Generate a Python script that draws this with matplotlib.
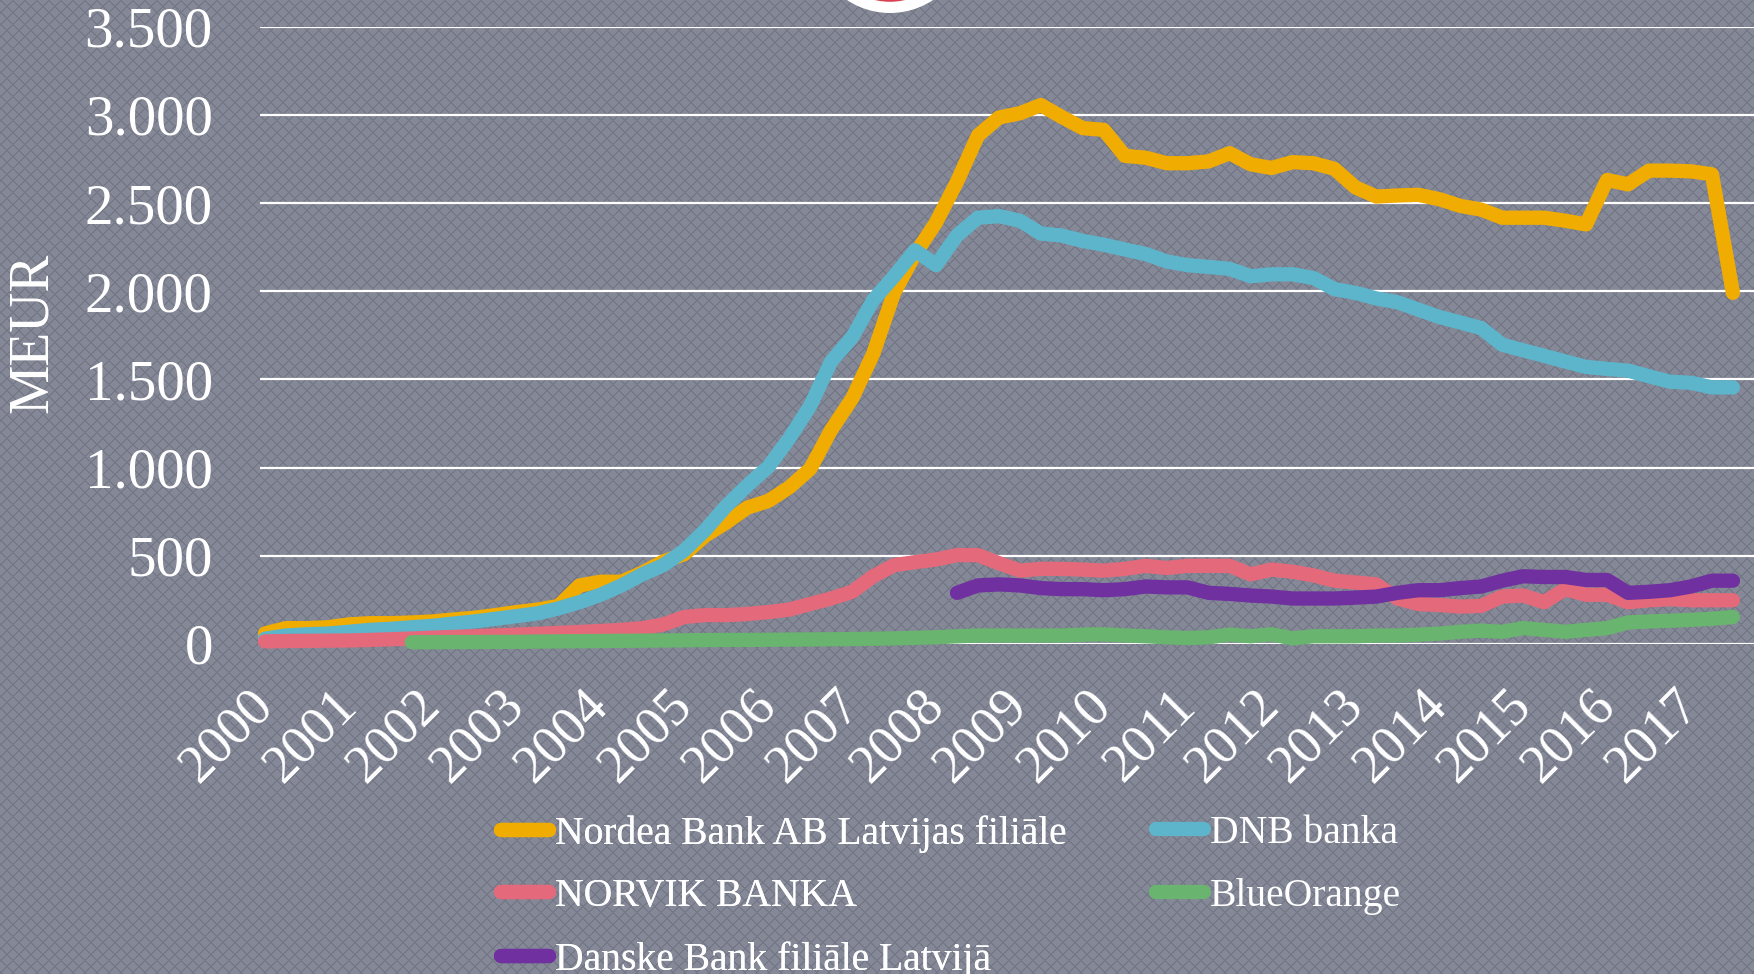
import numpy as np
import matplotlib
matplotlib.use("Agg")
import matplotlib.pyplot as plt
from matplotlib.patches import Circle
from matplotlib.ticker import FuncFormatter

# quarterly values, 2000Q1 .. 2017Q3 (MEUR)
years = [str(y) for y in range(2000, 2018)]

nordea = [60, 90, 90, 95, 111, 118, 118, 122, 128, 139, 149, 164, 181, 195, 216,
          332, 353, 353, 405, 468, 510, 615, 689, 773, 811, 888, 993, 1214, 1392,
          1644, 1991, 2211, 2390, 2621, 2883, 2985, 3009, 3056, 2988, 2925, 2915,
          2768, 2757, 2726, 2726, 2736, 2783, 2720, 2699, 2732, 2726, 2694, 2589,
          2537, 2543, 2547, 2522, 2484, 2463, 2417, 2417, 2417, 2400, 2379, 2631,
          2606, 2684, 2684, 2680, 2663, 1991]
dnb = [30, 48, 55, 59, 69, 80, 86, 95, 103, 116, 128, 143, 158, 174, 202, 237, 279,
       332, 395, 447, 531, 647, 783, 899, 1004, 1166, 1350, 1602, 1739, 1949, 2085,
       2232, 2148, 2316, 2417, 2426, 2400, 2327, 2316, 2285, 2264, 2237, 2211, 2169,
       2148, 2138, 2127, 2085, 2096, 2096, 2075, 2012, 1991, 1959, 1938, 1896, 1854,
       1823, 1791, 1697, 1665, 1634, 1602, 1571, 1560, 1550, 1518, 1487, 1481, 1455,
       1455]
norvik = [15, 17, 18, 19, 20, 23, 27, 31, 36, 40, 44, 48, 53, 58, 63, 68, 74, 80, 90,
          111, 153, 164, 164, 170, 181, 195, 227, 258, 296, 384, 447, 464, 479, 504,
          504, 458, 416, 426, 426, 422, 416, 426, 443, 431, 443, 443, 443, 395, 422,
          410, 389, 359, 349, 338, 258, 227, 221, 212, 216, 269, 275, 237, 311, 279,
          279, 237, 248, 254, 248, 248, 248]
blueorange_start = 7
blueorange = [10, 10, 11, 11, 12, 12, 14, 15, 16, 17, 18, 19, 20, 21, 22, 23, 23, 24,
              25, 26, 27, 28, 30, 32, 35, 38, 44, 48, 48, 48, 48, 48, 53, 55, 48, 44,
              38, 34, 38, 53, 44, 55, 32, 44, 44, 44, 48, 48, 53, 59, 69, 76, 69, 90,
              80, 69, 80, 90, 122, 128, 132, 137, 143, 153]
danske_start = 33
danske = [290, 332, 338, 332, 317, 311, 311, 305, 311, 326, 321, 321, 290, 284, 275,
          269, 258, 258, 258, 263, 269, 290, 305, 305, 317, 326, 359, 384, 380, 380,
          363, 363, 290, 296, 305, 326, 359, 359]

series = [
    ("Nordea Bank AB Latvijas filiāle", 0, nordea, "#f0ac00"),
    ("DNB banka", 0, dnb, "#5db5cb"),
    ("NORVIK BANKA", 0, norvik, "#e46a7b"),
    ("BlueOrange", blueorange_start, blueorange, "#69b46e"),
    ("Danske Bank filiāle Latvijā", danske_start, danske, "#7030a0"),
]

plt.rcParams["font.family"] = ["Liberation Serif", "DejaVu Serif"]

W, H, DPI = 1754, 974, 100
fig = plt.figure(figsize=(W / DPI, H / DPI), dpi=DPI)

# textured grey background
yy, xx = np.mgrid[0:H, 0:W]
mask = ((xx + yy) % 12 < 2) | ((xx - yy) % 12 < 2)
bg = np.empty((H, W, 3))
bg[:] = np.array([132, 136, 151]) / 255
bg[mask] = np.array([116, 120, 135]) / 255
fig.figimage(bg, 0, 0, zorder=-10)

# logo circle cut at top
fig.add_artist(Circle((8.9, 10.39), 0.78, transform=fig.dpi_scale_trans,
                      facecolor="white", edgecolor="none", zorder=1))
fig.add_artist(Circle((8.9, 10.39), 0.64, transform=fig.dpi_scale_trans,
                      facecolor="none", edgecolor="#d9414f", lw=4, zorder=2))

ax = fig.add_axes([260 / W, (H - 644) / H, 1 - 260 / W, (644 - 26.7) / H])
ax.set_facecolor("none")

lines = {}
for name, start, vals, color in series:
    x = np.arange(start, start + len(vals))
    ln, = ax.plot(x, vals, color=color, lw=10.3, solid_capstyle="round",
                  solid_joinstyle="round", label=name, clip_on=False, zorder=3)
    lines[name] = ln

ax.set_xlim(-5 / 20.97, (W - 265) / 20.97)
ax.set_ylim(0, 3500)
ax.set_yticks(range(0, 3501, 500))
ax.yaxis.set_major_formatter(FuncFormatter(lambda v, p: f"{int(v):,}".replace(",", ".")))
ax.yaxis.grid(True, color="white", lw=1.6, zorder=1)
ax.set_axisbelow(True)
for s in ax.spines.values():
    s.set_visible(False)

ax.set_xticks(range(0, 71, 4))
ax.set_xticklabels(years, rotation=45, ha="right", va="center",
                   rotation_mode="anchor")
ax.tick_params(axis="x", length=0, pad=39, labelsize=39, colors="white")
ax.tick_params(axis="y", length=0, pad=34, labelsize=41, colors="white")

fig.text(33 / W, 1 - 333 / H, "MEUR", rotation=90, ha="center", va="center",
         fontsize=40, color="white")

# legend: two columns placed separately
col1 = ["Nordea Bank AB Latvijas filiāle", "NORVIK BANKA", "Danske Bank filiāle Latvijā"]
col2 = ["DNB banka", "BlueOrange"]
common = dict(loc="upper left", frameon=False, fontsize=28.5, labelcolor="white",
              handlelength=1.21, handletextpad=0.15, labelspacing=0.65,
              borderpad=0, borderaxespad=0)
leg1 = fig.legend([lines[n] for n in col1], col1,
                  bbox_to_anchor=(501 / W, 1 - 815 / H), **common)
fig.add_artist(leg1)
fig.legend([lines[n] for n in col2], col2,
           bbox_to_anchor=(1156 / W, 1 - 815 / H), **common)

fig.savefig("out.png", dpi=DPI)
